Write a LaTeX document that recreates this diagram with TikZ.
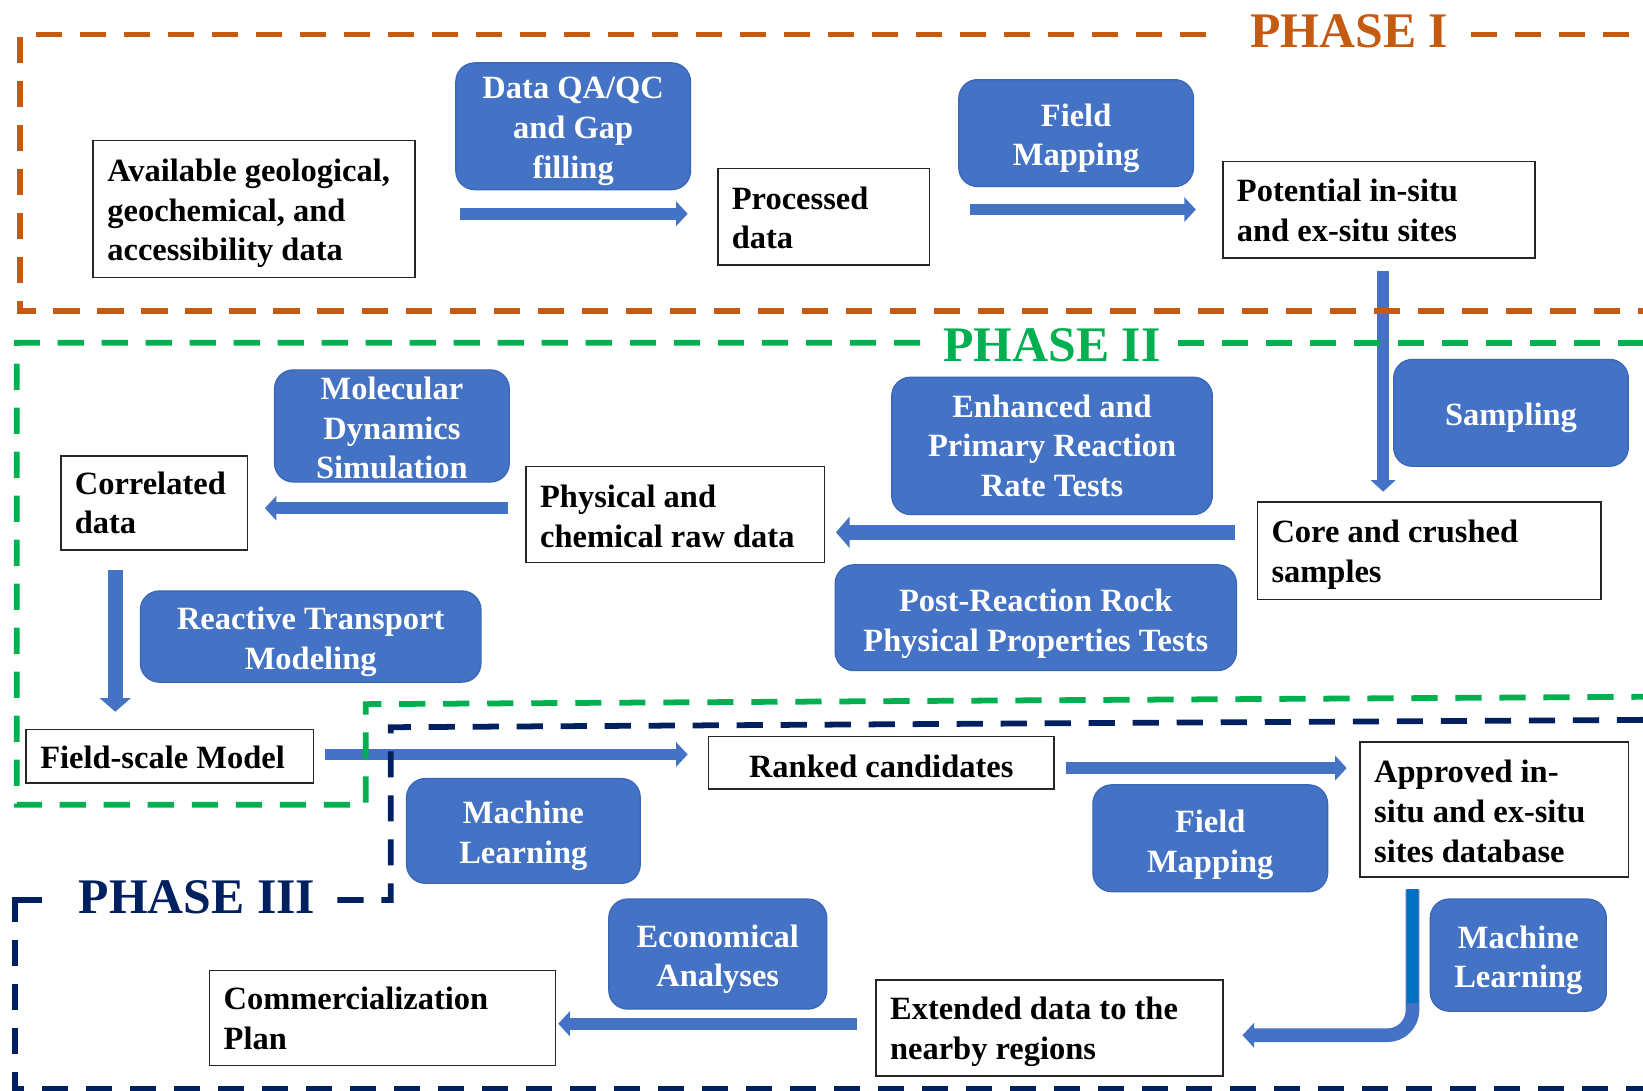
\documentclass[tikz,border=0pt]{standalone}
\usepackage{fontspec}
\setmainfont{Liberation Serif}
\usetikzlibrary{arrows.meta}
\definecolor{phaseorange}{HTML}{C55A11}
\definecolor{phasegreen}{HTML}{00B050}
\definecolor{phasenavy}{HTML}{002060}
\definecolor{boxblue}{HTML}{4472C4}
\definecolor{boxedge}{HTML}{3A66B8}
\definecolor{brightblue}{HTML}{0070C0}
\newcommand{\boxfont}{\fontsize{31}{38}\selectfont\bfseries}
\newcommand{\titlefont}{\fontsize{47.5}{52}\selectfont\bfseries}
\begin{document}
\begin{tikzpicture}[x=1pt,y=-1pt,
  tbox/.style={draw=black!85, line width=1.5pt, fill=white, inner sep=0pt},
  bbox/.style={draw=boxedge, line width=1.2pt, fill=boxblue, rounded corners=18pt, inner sep=0pt},
  ttext/.style={align=left, inner sep=0pt, font=\boxfont, anchor=west},
  ctext/.style={align=center, inner sep=0pt, font=\boxfont},
  btext/.style={align=center, inner sep=0pt, font=\boxfont, text=white},
  barrow/.style={draw=boxblue, line width=11pt, -{Triangle[width=23pt,length=11pt]}},
  bigarrow/.style={draw=boxblue, line width=14.5pt, -{Triangle[width=29pt,length=13pt]}},
  frame/.style={line width=5.5pt, dash pattern=on 25pt off 17pt},
  solidframe/.style={line width=5.5pt},
  phasetitle/.style={font=\titlefont, inner sep=0pt, anchor=base west}
]
\useasboundingbox (0,0) rectangle (1568,1041);
\fill[white] (0,0) rectangle (1568,1041);

% ---------- Phase I ----------
\node[tbox, minimum width=307pt, minimum height=131pt] (avail) at (242.5,199.5) {};
\node[ttext] (availT) at ([shift={(14,4)}]avail.west)
  {Available geological,\\ geochemical, and\\ accessibility data};
\node[bbox, minimum width=224pt, minimum height=121pt] (qa) at (547,120.5) {};
\node[btext] (qaT) at ([shift={(0,5)}]qa.center) {Data QA/QC\\ and Gap\\ filling};
\node[tbox, minimum width=202pt, minimum height=92pt] (processed) at (786,207) {};
\node[ttext] (processedT) at ([shift={(14,1)}]processed.west) {Processed\\ data};
\node[bbox, minimum width=224pt, minimum height=102pt] (fm1) at (1027,127) {};
\node[btext] (fm1T) at ([shift={(0,5)}]fm1.center) {Field\\ Mapping};
\node[tbox, minimum width=298pt, minimum height=92pt] (potential) at (1316,200) {};
\node[ttext] (potentialT) at ([shift={(14,1)}]potential.west) {Potential in-situ\\ and ex-situ sites};

% ---------- Phase II ----------
\node[bbox, minimum width=224pt, minimum height=102pt] (sampling) at (1442,394) {};
\node[btext] (samplingT) at ([shift={(0,5)}]sampling.center) {Sampling};
\node[tbox, minimum width=328pt, minimum height=93pt] (core) at (1364,525.5) {};
\node[ttext] (coreT) at ([shift={(14,4)}]core.west) {Core and crushed\\ samples};
\node[bbox, minimum width=306pt, minimum height=131pt] (enhanced) at (1004,425.5) {};
\node[btext] (enhancedT) at ([shift={(0,0)}]enhanced.center) {Enhanced and\\ Primary Reaction\\ Rate Tests};
\node[bbox, minimum width=383pt, minimum height=101pt] (post) at (988.5,589.5) {};
\node[btext] (postT) at ([shift={(0,6)}]post.center) {Post-Reaction Rock\\ Physical Properties Tests};
\node[tbox, minimum width=285pt, minimum height=92pt] (physical) at (644.5,491) {};
\node[ttext] (physicalT) at ([shift={(14,2)}]physical.west) {Physical and\\ chemical raw data};
\node[bbox, minimum width=224pt, minimum height=107pt] (molecular) at (374,406.5) {};
\node[btext] (molecularT) at ([shift={(0,2)}]molecular.center) {Molecular\\ Dynamics\\ Simulation};
\node[tbox, minimum width=178pt, minimum height=90pt] (correlated) at (147,480) {};
\node[ttext] (correlatedT) at ([shift={(14,0)}]correlated.west) {Correlated\\ data};
\node[bbox, minimum width=325pt, minimum height=87pt] (rtm) at (296.5,607.5) {};
\node[btext] (rtmT) at ([shift={(0,5)}]rtm.center) {Reactive Transport\\ Modeling};
\node[tbox, minimum width=274pt, minimum height=51pt] (fieldscale) at (162,721.5) {};
\node[ttext] (fieldscaleT) at ([shift={(14,1)}]fieldscale.west) {Field-scale Model};

% ---------- Phase III ----------
\node[tbox, minimum width=330pt, minimum height=50pt] (ranked) at (841,728) {};
\node[ctext] (rankedT) at ([shift={(0,3)}]ranked.center) {Ranked candidates};
\node[tbox, minimum width=256pt, minimum height=129pt] (approved) at (1426,772.5) {};
\node[ttext] (approvedT) at ([shift={(14,2)}]approved.west) {Approved in-\\ situ and ex-situ\\ sites database};
\node[bbox, minimum width=224pt, minimum height=102pt] (fm2) at (1155,800) {};
\node[btext] (fm2T) at ([shift={(0,6)}]fm2.center) {Field\\ Mapping};
\node[bbox, minimum width=223pt, minimum height=100pt] (ml1) at (499.5,793) {};
\node[btext] (ml1T) at ([shift={(0,5)}]ml1.center) {Machine\\ Learning};
\node[bbox, minimum width=208pt, minimum height=105pt] (econ) at (685,910.5) {};
\node[btext] (econT) at ([shift={(0,5)}]econ.center) {Economical\\ Analyses};
\node[tbox, minimum width=330pt, minimum height=91pt] (commercial) at (365,971.5) {};
\node[ttext] (commercialT) at ([shift={(14,0)}]commercial.west) {Commercialization\\ Plan};
\node[tbox, minimum width=331pt, minimum height=92pt] (extended) at (1001.5,981) {};
\node[ttext] (extendedT) at ([shift={(14,4)}]extended.west) {Extended data to the\\ nearby regions};
\node[bbox, minimum width=168pt, minimum height=107pt] (ml2) at (1449,911.5) {};
\node[btext] (ml2T) at ([shift={(0,5)}]ml2.center) {Machine\\ Learning};

% ---------- connectors ----------
\draw[barrow] ([shift={(42,4.5)}]avail.east) -- ([shift={(-28,-3)}]processed.west);
\draw[barrow] ([shift={(38,-7)}]processed.east) -- ([shift={(-25,0)}]potential.west);
\draw[barrow] ([shift={(4,12)}]potential.south) -- ([shift={(-44,-9)}]core.north);
\draw[bigarrow] ([shift={(-21,-17.5)}]core.west) -- ([shift={(10,17)}]physical.east);
\draw[barrow] ([shift={(-16,-6)}]physical.west) -- ([shift={(16,5)}]correlated.east);
\draw[bigarrow] ([shift={(-37,18)}]correlated.south) -- ([shift={(-52,-16)}]fieldscale.north);
\draw[barrow] ([shift={(10,-1.5)}]fieldscale.east) -- ([shift={(-19,-8)}]ranked.west);
\draw[barrow] ([shift={(11,5)}]ranked.east) -- ([shift={(-12,-39.5)}]approved.west);
\draw[barrow, line width=13pt, rounded corners=24pt] ([shift={(-78,11)}]approved.south)
  |- ([shift={(18,7)}]extended.east);
\draw[draw=brightblue, line width=11pt] ([shift={(-78,11)}]approved.south) -- ++(0,108);
\draw[barrow] ([shift={(-17,-4)}]extended.west) -- ([shift={(2,5.5)}]commercial.east);

% ---------- phase frames ----------
\draw[frame, draw=phaseorange] (1151,33) -- (19,33) -- (19,297) -- (1568,297);
\draw[frame, draw=phaseorange] (1404,33) -- (1568,33);
\node[phasetitle, text=phaseorange] (t1) at (1193,45) {PHASE I};

\draw[frame, draw=phasegreen] (878,327) -- (16,327) -- (16,768) -- (349,768) -- (349,672) -- (1568,665);
\draw[frame, draw=phasegreen] (1124,327) -- (1568,327);
\node[phasetitle, text=phasegreen] (t2) at (900,345) {PHASE II};

\draw[frame, draw=phasenavy] (1568,687) -- (373,694) -- (373,859) -- (317,859);
\draw[solidframe, draw=phasenavy] (40,859) -- (14,859) -- (14,880);
\draw[frame, draw=phasenavy] (14,897) -- (14,1039) -- (1568,1039);
\node[phasetitle, text=phasenavy] (t3) at (75,872) {PHASE III};
\end{tikzpicture}
\end{document}
